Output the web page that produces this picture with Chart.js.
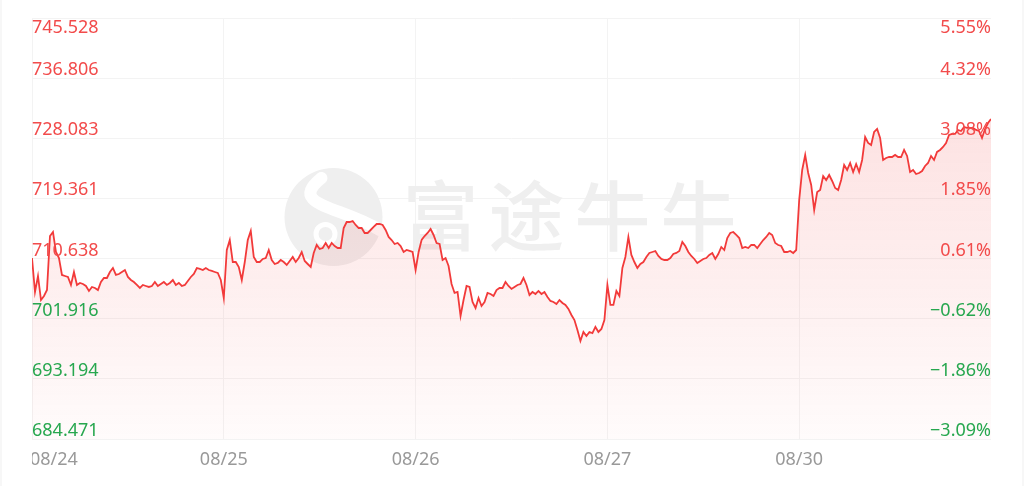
<!DOCTYPE html>
<html>
<head>
<meta charset="utf-8">
<script src="https://cdn.jsdelivr.net/npm/chart.js@4/dist/chart.umd.min.js"></script>
<style>
  html, body { margin: 0; padding: 0; background: #f7f7f7; }
  #wrap { position: absolute; left: 2px; top: 0; width: 1020px; height: 486px; background: #fff; }
</style>
</head>
<body>
<div id="wrap"><canvas id="myChart" width="1020" height="486"></canvas></div>
<script>
// trading days shown on the x axis
const dayLabels = ["08/24", "08/25", "08/26", "08/27", "08/30"];
const perDay = 64;

// price axis ticks and the matching change vs. previous close
const priceTicks = [684.471, 693.194, 701.916, 710.638, 719.361, 728.083, 736.806, 745.528];
const pctTicks = ["\u22123.09%", "\u22121.86%", "\u22120.62%", "0.61%", "1.85%", "3.08%", "4.32%", "5.55%"];
const prevClose = 706.33;

// intraday prices, one list per day
const day0824 = [710.72, 705.79, 708.11, 704.63, 705.21, 706.08, 713.91, 714.49, 711.59, 710.72,
  708.26, 708.11, 707.97, 706.81, 708.69, 706.81, 707.10, 706.95, 706.66, 705.94,
  706.52, 706.37, 706.08, 707.24, 707.82, 707.82, 708.69, 709.27, 708.26, 708.40,
  708.69, 708.98, 707.97, 707.53, 707.24, 706.81, 706.37, 706.81, 706.66, 706.52,
  706.66, 707.24, 706.66, 706.95, 707.24, 706.81, 707.10, 707.53, 706.81, 707.10,
  706.66, 706.81, 707.39, 707.97, 708.40, 709.27, 709.13, 708.98, 709.27, 708.98,
  708.84, 708.69, 708.55, 707.53];
const day0825 = [704.92, 711.88, 713.33, 710.14, 710.14, 709.42, 707.53, 710.14, 713.33, 714.64,
  710.87, 710.14, 710.14, 710.58, 710.72, 711.88, 710.43, 709.85, 710.00, 710.43,
  710.14, 709.71, 710.29, 710.87, 710.14, 710.72, 711.59, 710.29, 709.85, 709.42,
  711.45, 712.61, 712.03, 712.17, 712.90, 712.17, 712.90, 712.46, 712.17, 712.17,
  715.07, 715.94, 715.94, 716.09, 715.51, 715.07, 715.07, 714.35, 714.35, 714.78,
  715.22, 715.65, 715.65, 715.51, 714.78, 713.77, 713.33, 712.75, 712.90, 712.46,
  711.59, 711.88, 711.74, 711.59];
const day0826 = [708.98, 711.59, 713.33, 713.91, 714.35, 714.93, 714.06, 712.90, 712.75, 710.43,
  710.72, 709.56, 706.95, 705.65, 705.79, 702.31, 704.63, 706.66, 706.52, 704.34,
  703.47, 704.92, 703.76, 704.34, 705.65, 705.50, 705.21, 706.08, 706.37, 706.37,
  707.24, 706.66, 706.23, 706.52, 706.81, 706.95, 707.82, 706.81, 705.36, 705.79,
  705.50, 705.94, 705.50, 705.79, 705.07, 704.49, 704.34, 704.05, 704.63, 704.20,
  703.91, 703.33, 702.46, 701.73, 700.28, 698.69, 699.99, 699.41, 699.99, 699.84,
  700.72, 699.99, 700.43, 701.73];
const day0827 = [706.81, 703.91, 703.91, 705.94, 705.21, 709.27, 710.87, 713.77, 711.16, 710.14,
  709.27, 709.85, 710.14, 710.87, 711.45, 711.59, 711.74, 711.01, 710.58, 710.43,
  710.43, 710.72, 711.30, 711.45, 711.74, 713.04, 712.46, 711.59, 711.01, 710.58,
  710.00, 710.29, 710.58, 710.72, 711.16, 711.45, 710.58, 711.30, 712.32, 711.88,
  713.62, 714.35, 714.49, 714.06, 713.62, 712.17, 712.32, 712.17, 712.61, 712.61,
  712.17, 712.75, 713.33, 713.77, 714.35, 714.06, 712.90, 712.61, 712.46, 711.59,
  711.59, 711.74, 711.45, 711.88];
const day0830 = [719.13, 723.49, 725.67, 723.05, 721.31, 717.68, 720.29, 720.58, 722.61, 722.03,
  722.76, 721.89, 720.87, 720.58, 722.03, 724.21, 723.49, 724.50, 723.20, 724.36,
  723.20, 724.94, 728.27, 727.40, 727.11, 729.00, 729.43, 728.13, 724.94, 725.23,
  725.37, 725.37, 725.67, 725.37, 725.37, 726.39, 725.52, 723.20, 723.49, 722.90,
  723.05, 723.34, 724.07, 724.50, 725.52, 724.94, 726.10, 726.39, 726.82, 727.40,
  728.56, 728.71, 728.71, 729.29, 729.14, 729.72, 729.58, 729.58, 729.58, 729.29,
  729.14, 728.13, 729.43, 730.30, 730.88];

const prices = [].concat(day0824, day0825, day0826, day0827, day0830);

const red = "#f24b4b";
const green = "#27a74f";
const lineRed = "#f23a3a";
const gridColor = "#f3f3f3";

// faint brand watermark behind the line
const watermark = {
  id: "watermark",
  beforeDatasetsDraw(chart) {
    const c = chart.ctx;
    const a = chart.chartArea;
    const cx = (a.left + a.right) / 2;
    const cy = 216;
    c.save();
    c.fillStyle = "#efefef";
    c.beginPath();
    c.arc(cx - 178, cy + 1, 49, 0, Math.PI * 2);
    c.fill();
    c.strokeStyle = "#ffffff";
    c.lineWidth = 12;
    c.lineCap = "round";
    c.beginPath();
    c.moveTo(cx - 190, cy - 38);
    c.bezierCurveTo(cx - 225, cy - 10, cx - 170, cy - 10, cx - 132, cy + 14);
    c.stroke();
    c.fillStyle = "#ffffff";
    c.beginPath();
    c.arc(cx - 186, cy + 18, 12, 0, Math.PI * 2);
    c.fill();
    c.fillStyle = "#efefef";
    c.beginPath();
    c.arc(cx - 186, cy + 18, 7, 0, Math.PI * 2);
    c.fill();
    c.font = "500 76px 'Noto Sans CJK SC'";
    c.letterSpacing = "10px";
    c.textBaseline = "middle";
    c.textAlign = "left";
    c.fillText("富途牛牛", cx - 109, cy);
    c.restore();
  },
};

// price / percent labels inside the plot, day labels under it
const axisLabels = {
  id: "axisLabels",
  afterDatasetsDraw(chart) {
    const c = chart.ctx;
    const a = chart.chartArea;
    const y = chart.scales.y;
    const x = chart.scales.x;
    c.save();
    c.font = "18px 'Noto Sans'";
    c.textBaseline = "alphabetic";
    priceTicks.forEach((v, i) => {
      const py = y.getPixelForValue(v);
      const base = i === priceTicks.length - 1 ? py + 15 : py - 3;
      c.fillStyle = v >= prevClose ? red : green;
      c.textAlign = "left";
      c.fillText(v.toFixed(3), a.left, base);
      c.textAlign = "right";
      c.fillText(pctTicks[i], a.right, base);
    });
    c.fillStyle = "#999999";
    dayLabels.forEach((d, i) => {
      const px = x.getPixelForValue(i * perDay);
      if (i === 0) {
        c.save();
        c.beginPath();
        c.rect(a.left, a.bottom, a.right - a.left, 47);
        c.clip();
        c.textAlign = "left";
        c.fillText(d, px - 2, 465);
        c.restore();
      } else {
        c.textAlign = "center";
        c.fillText(d, px, 465);
      }
    });
    c.restore();
  },
};

var ctx = document.getElementById("myChart").getContext("2d");
var chart = new Chart(ctx, {
  type: "line",
  data: {
    datasets: [
      {
        data: prices.map((p, i) => ({ x: i, y: p })),
        borderColor: lineRed,
        borderWidth: 1.8,
        pointRadius: 0,
        tension: 0,
        fill: "start",
        backgroundColor: function (context) {
          const ch = context.chart;
          const area = ch.chartArea;
          if (!area) return "rgba(242,60,60,0.08)";
          const top = ch.scales.y.getPixelForValue(Math.max(...prices));
          const g = ch.ctx.createLinearGradient(0, top, 0, area.bottom);
          g.addColorStop(0, "rgba(242,60,60,0.15)");
          g.addColorStop(1, "rgba(242,60,60,0.02)");
          return g;
        },
      },
    ],
  },
  options: {
    responsive: false,
    animation: false,
    layout: { padding: { left: 30, right: 31, top: 18, bottom: 47 } },
    plugins: {
      legend: { display: false },
      tooltip: { enabled: false },
    },
    scales: {
      x: {
        type: "linear",
        min: 0,
        max: prices.length - 1,
        afterBuildTicks: (s) => {
          s.ticks = dayLabels.map((d, i) => ({ value: i * perDay }));
        },
        afterFit: (s) => {
          s.height = 0;
        },
        ticks: { display: false },
        grid: { color: gridColor, drawTicks: false },
        border: { display: false },
      },
      y: {
        type: "linear",
        min: priceTicks[0],
        max: priceTicks[priceTicks.length - 1],
        afterBuildTicks: (s) => {
          s.ticks = priceTicks.map((v) => ({ value: v }));
        },
        afterFit: (s) => {
          s.width = 0;
        },
        ticks: { display: false },
        grid: { color: gridColor, drawTicks: false },
        border: { display: false },
      },
    },
  },
  plugins: [watermark, axisLabels],
});
</script>
</body>
</html>
